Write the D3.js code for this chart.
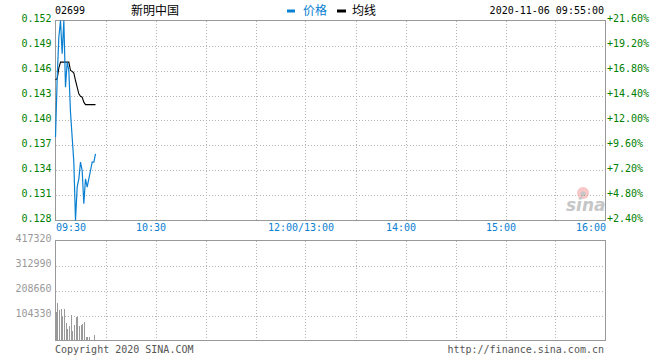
<!DOCTYPE html>
<html><head><meta charset="utf-8">
<script src="https://cdn.jsdelivr.net/npm/d3@7"></script>
<style>
body{margin:0;background:#fff}
text{font-family:"DejaVu Sans Mono",monospace;font-size:10px}
</style>
</head><body>
<svg id="c" width="660" height="360"></svg>
<script>
// ---- data ----
const stockCode = "02699";
const stockName = "新明中国";
const stamp = "2020-11-06 09:55:00";
const legendNames = ["价格", "均线"];
const prevClose = 0.125;
// minute index from 09:30 (trading minutes)
const minutes = d3.range(25);
const price = [0.138,0.145,0.150,0.152,0.148,0.152,0.144,0.147,0.146,0.141,0.138,0.135,0.128,0.132,0.133,0.135,0.134,0.130,0.133,0.132,0.133,0.134,0.135,0.135,0.136];
const avgPrice = [0.1449,0.1450,0.1463,0.1470,0.1470,0.1470,0.1470,0.1470,0.1470,0.1460,0.1459,0.1457,0.1448,0.1440,0.1432,0.1429,0.1428,0.1422,0.1419,0.1419,0.1419,0.1419,0.1419,0.1419,0.1419];
const volume = [120000,155700,125200,132300,97240,129370,72200,48830,59680,108500,41730,62600,97240,97240,59680,65520,69690,79290,13770,13770,16690,4170,0,20870,4170];
const priceTicks = [0.128,0.131,0.134,0.137,0.140,0.143,0.146,0.149,0.152];
const volTicks = [104330,208660,312990,417320];
const timeTicks = [0,60,150,210,270,330];
const timeLabels = ["09:30","10:30","12:00/13:00","14:00","15:00","16:00"];
const gridMinutes = d3.range(30, 330, 30);

// ---- layout ----
const L = 55.5, R = 605.5, PT = 20.5, PB = 220.5, VT = 240.5, VB = 340.5;
const GREEN = "#008000", BLUE = "#0a80d2", GREY = "#999";

const svg = d3.select("#c");
const x = d3.scaleLinear().domain([0, 330]).range([L, R]);
const y = d3.scaleLinear().domain([0.128, 0.152]).range([PB, PT]);
const yv = d3.scaleLinear().domain([0, 417320]).range([VB, VT]);

// grids
const grid = svg.append("g").attr("stroke", "#b4b4b4").attr("stroke-dasharray", "1,2").attr("shape-rendering","crispEdges");
grid.selectAll(".hp").data(priceTicks.slice(1, -1)).join("line")
  .attr("x1", L).attr("x2", R).attr("y1", d => Math.round(y(d)) + 0.5).attr("y2", d => Math.round(y(d)) + 0.5);
grid.selectAll(".hv").data(volTicks.slice(0, -1)).join("line").attr("class","hv")
  .attr("x1", L).attr("x2", R).attr("y1", d => Math.round(yv(d)) + 0.5).attr("y2", d => Math.round(yv(d)) + 0.5);
[[PT, PB], [VT, VB]].forEach(([a, b]) => {
  grid.append("g").selectAll("line").data(gridMinutes).join("line")
    .attr("x1", d => Math.round(x(d)) + 0.5).attr("x2", d => Math.round(x(d)) + 0.5)
    .attr("y1", a).attr("y2", b);
});

// frames
svg.append("rect").attr("x", L).attr("y", PT).attr("width", R - L).attr("height", PB - PT)
  .attr("fill", "none").attr("stroke", GREY).attr("shape-rendering","crispEdges");
svg.append("rect").attr("x", L).attr("y", VT).attr("width", R - L).attr("height", VB - VT)
  .attr("fill", "none").attr("stroke", GREY).attr("shape-rendering","crispEdges");

// sina watermark
const wm = svg.append("g").attr("opacity", 0.55);
wm.append("circle").attr("cx", 583).attr("cy", 193).attr("r", 6).attr("fill", "#f39a9a");
wm.append("circle").attr("cx", 583).attr("cy", 194).attr("r", 2.5).attr("fill", "#999");
wm.append("text").attr("x", 566).attr("y", 211).attr("font-style", "italic").attr("font-weight", "bold")
  .style("font-family", "DejaVu Sans").style("font-size", "17px").attr("fill", "#999").text("sina");

// axes
const axL = d3.axisLeft(y).tickValues(priceTicks).tickFormat(d3.format(".3f")).tickSize(0).tickPadding(4);
const gL = svg.append("g").attr("transform", `translate(${L},0)`).call(axL);
const axR = d3.axisRight(y).tickValues(priceTicks)
  .tickFormat(d => "+" + ((d / prevClose - 1) * 100).toFixed(2) + "%").tickSize(0).tickPadding(1.5);
const gR = svg.append("g").attr("transform", `translate(${R},0)`).call(axR);
[gL, gR].forEach(g => {
  g.select(".domain").remove();
  g.selectAll("text").attr("fill", GREEN).attr("dy", "0.1em")
    .style("font-family", "DejaVu Sans Mono").style("font-size", "10px");
});
const axV = d3.axisLeft(yv).tickValues(volTicks).tickFormat(d3.format("d")).tickSize(0).tickPadding(4);
const gV = svg.append("g").attr("transform", `translate(${L},0)`).call(axV);
gV.select(".domain").remove();
gV.selectAll("text").attr("fill", GREY).attr("dy", "0.12em")
  .style("font-family", "DejaVu Sans Mono").style("font-size", "10px");

const axB = d3.axisBottom(x).tickValues(timeTicks).tickFormat((d, i) => timeLabels[i]).tickSize(0).tickPadding(3.5);
const gB = svg.append("g").attr("transform", `translate(0,${PB})`).call(axB);
gB.select(".domain").remove();
gB.selectAll("text").attr("fill", BLUE).style("font-family", "DejaVu Sans Mono").style("font-size", "10px")
  .attr("text-anchor", (d, i) => i === 0 ? "start" : (i === timeTicks.length - 1 ? "end" : "middle"))
  .attr("dx", (d, i) => (i === 0 || i === timeTicks.length - 1) ? 0 : -5);

// volume bars
svg.append("g").attr("fill", GREY).attr("shape-rendering","crispEdges")
  .selectAll("rect").data(minutes).join("rect")
  .attr("x", i => Math.round(x(i)))
  .attr("width", 1)
  .attr("y", i => yv(volume[i]))
  .attr("height", i => yv(0) - yv(volume[i]));

// price & average lines
const line = arr => d3.line().x(i => x(i)).y(i => y(arr[i]))(minutes);
svg.append("path").attr("d", line(avgPrice)).attr("fill", "none").attr("stroke", "#000").attr("stroke-width", 1.1);
svg.append("path").attr("d", line(price)).attr("fill", "none").attr("stroke", BLUE).attr("stroke-width", 1.2);

// header
svg.append("text").attr("x", 55).attr("y", 14).attr("fill", "#000").text(stockCode);
svg.append("text").attr("x", 131).attr("y", 14.5).attr("fill", "#000")
  .style("font-family", "'Noto Sans CJK SC'").style("font-size", "12px").text(stockName);
svg.append("rect").attr("x", 287).attr("y", 9.5).attr("width", 8).attr("height", 3).attr("fill", BLUE);
svg.append("text").attr("x", 303).attr("y", 14.5).attr("fill", BLUE)
  .style("font-family", "'Noto Sans CJK SC'").style("font-size", "12px").text(legendNames[0]);
svg.append("rect").attr("x", 337).attr("y", 9.5).attr("width", 9).attr("height", 3).attr("fill", "#000");
svg.append("text").attr("x", 352).attr("y", 14.5).attr("fill", "#000")
  .style("font-family", "'Noto Sans CJK SC'").style("font-size", "12px").text(legendNames[1]);
svg.append("text").attr("x", 604).attr("y", 14).attr("text-anchor", "end").attr("fill", "#000").text(stamp);

// footer
svg.append("text").attr("x", 55).attr("y", 353).attr("fill", "#555").text("Copyright 2020 SINA.COM");
svg.append("text").attr("x", 604).attr("y", 353).attr("text-anchor", "end").attr("fill", "#555").text("http://finance.sina.com.cn");
</script>
</body></html>
